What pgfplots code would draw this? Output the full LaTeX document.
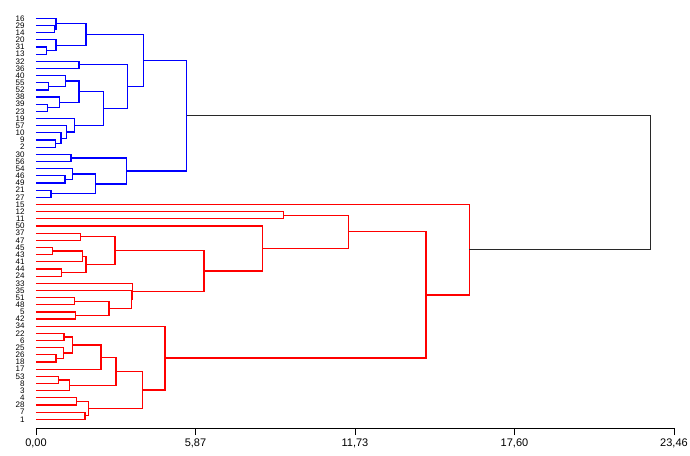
\documentclass[border=0pt]{standalone}
\usepackage{fontspec}
\setmainfont{Liberation Sans}
\usepackage{pgfplots}
\pgfplotsset{compat=1.18}
\begin{document}
\begin{tikzpicture}
\useasboundingbox (-36pt,-27pt) rectangle (654pt,428pt);
\begin{axis}[
  scale only axis, width=638pt, height=428pt,
  xmin=0, xmax=23.46, ymin=-57.21, ymax=2.556,
  axis x line=bottom, axis y line=left,
  axis line style={-, line width=0.8pt},
  y axis line style={draw=none},
  xtick={0,5.865,11.73,17.595,23.46},
  xticklabels={{0,00},{5,87},{11,73},{17,60},{23,46}},
  x tick label style={font=\fontsize{11}{13}\selectfont},
  tick align=outside, major tick length=7pt,
  x tick style={line width=0.8pt, black},
  ytick={0,-1,...,-56},
  yticklabels={16,29,14,20,31,13,32,36,40,55,52,38,39,23,19,57,10,9,2,30,56,54,46,49,21,27,15,12,11,50,37,47,45,43,41,44,24,33,35,51,48,5,42,34,22,6,25,26,18,17,53,8,3,4,28,7,1},
  y tick style={draw=none},
  y tick label style={font=\fontsize{8}{8}\selectfont, xshift=-1pt},
  unbounded coords=jump,
  clip=false,
]
% blue cluster
\addplot[blue, no marks, line width=1.2pt] coordinates {
(0,-1) (0.673,-1) (0.673,-2) (0,-2) (0,nan)
(0,0) (0.735,0) (0.735,-1.5) (0.673,-1.5) (0,nan)
(0,-4) (0.393,-4) (0.393,-5) (0,-5) (0,nan)
(0,-3) (0.735,-3) (0.735,-4.5) (0.393,-4.5) (0,nan)
(0.735,-0.75) (1.839,-0.75) (1.839,-3.75) (0.735,-3.75) (0,nan)
(0,-6) (1.581,-6) (1.581,-7) (0,-7) (0,nan)
(0,-9) (0.452,-9) (0.452,-10) (0,-10) (0,nan)
(0,-8) (1.092,-8) (1.092,-9.5) (0.452,-9.5) (0,nan)
(0,-12) (0.430,-12) (0.430,-13) (0,-13) (0,nan)
(0,-11) (0.857,-11) (0.857,-12.5) (0.430,-12.5) (0,nan)
(1.092,-8.75) (1.581,-8.75) (1.581,-11.75) (0.857,-11.75) (0,nan)
(0,-17) (0.710,-17) (0.710,-18) (0,-18) (0,nan)
(0,-16) (0.919,-16) (0.919,-17.5) (0.710,-17.5) (0,nan)
(0,-15) (1.129,-15) (1.129,-16.75) (0.919,-16.75) (0,nan)
(0,-14) (1.408,-14) (1.408,-15.875) (1.129,-15.875) (0,nan)
(1.581,-10.25) (2.475,-10.25) (2.475,-14.9375) (1.408,-14.9375) (0,nan)
(1.581,-6.5) (3.372,-6.5) (3.372,-12.59375) (2.475,-12.59375) (0,nan)
(1.839,-2.25) (3.946,-2.25) (3.946,-9.546875) (3.372,-9.546875) (0,nan)
(0,-19) (1.287,-19) (1.287,-20) (0,-20) (0,nan)
(0,-22) (1.066,-22) (1.066,-23) (0,-23) (0,nan)
(0,-21) (1.335,-21) (1.335,-22.5) (1.066,-22.5) (0,nan)
(0,-24) (0.552,-24) (0.552,-25) (0,-25) (0,nan)
(1.335,-21.75) (2.195,-21.75) (2.195,-24.5) (0.552,-24.5) (0,nan)
(1.287,-19.5) (3.335,-19.5) (3.335,-23.125) (2.195,-23.125) (0,nan)
(3.946,-5.8984) (5.542,-5.8984) (5.542,-21.3125) (3.335,-21.3125)
};
% red cluster
\addplot[red, no marks, line width=1.2pt] coordinates {
(0,-27) (9.094,-27) (9.094,-28) (0,-28) (0,nan)
(0,-30) (1.644,-30) (1.644,-31) (0,-31) (0,nan)
(0,-32) (0.599,-32) (0.599,-33) (0,-33) (0,nan)
(0.599,-32.5) (1.717,-32.5) (1.717,-34) (0,-34) (0,nan)
(0,-35) (0.945,-35) (0.945,-36) (0,-36) (0,nan)
(1.717,-33.25) (1.839,-33.25) (1.839,-35.5) (0.945,-35.5) (0,nan)
(1.644,-30.5) (2.905,-30.5) (2.905,-34.375) (1.839,-34.375) (0,nan)
(0,-39) (1.408,-39) (1.408,-40) (0,-40) (0,nan)
(0,-41) (1.460,-41) (1.460,-42) (0,-42) (0,nan)
(1.408,-39.5) (2.684,-39.5) (2.684,-41.5) (1.460,-41.5) (0,nan)
(0,-38) (3.504,-38) (3.504,-40.5) (2.684,-40.5) (0,nan)
(0,-37) (3.541,-37) (3.541,-39.25) (3.504,-39.25) (0,nan)
(2.905,-32.4375) (6.178,-32.4375) (6.178,-38.125) (3.541,-38.125) (0,nan)
(0,-29) (8.336,-29) (8.336,-35.28125) (6.178,-35.28125) (0,nan)
(9.094,-27.5) (11.484,-27.5) (11.484,-32.140625) (8.336,-32.140625) (0,nan)
(0,-44) (1.030,-44) (1.030,-45) (0,-45) (0,nan)
(0,-47) (0.735,-47) (0.735,-48) (0,-48) (0,nan)
(0,-46) (1.010,-46) (1.010,-47.5) (0.735,-47.5) (0,nan)
(1.030,-44.5) (1.335,-44.5) (1.335,-46.75) (1.010,-46.75) (0,nan)
(1.335,-45.625) (2.390,-45.625) (2.390,-49) (0,-49) (0,nan)
(0,-50) (0.835,-50) (0.835,-51) (0,-51) (0,nan)
(0.835,-50.5) (1.224,-50.5) (1.224,-52) (0,-52) (0,nan)
(2.390,-47.3125) (2.942,-47.3125) (2.942,-51.25) (1.224,-51.25) (0,nan)
(0,-53) (1.497,-53) (1.497,-54) (0,-54) (0,nan)
(0,-55) (1.802,-55) (1.802,-56) (0,-56) (0,nan)
(1.497,-53.5) (1.923,-53.5) (1.923,-55.5) (1.802,-55.5) (0,nan)
(2.942,-49.28125) (3.924,-49.28125) (3.924,-54.5) (1.923,-54.5) (0,nan)
(0,-43) (4.744,-43) (4.744,-51.890625) (3.924,-51.890625) (0,nan)
(11.484,-29.8203125) (14.341,-29.8203125) (14.341,-47.4453125) (4.744,-47.4453125) (0,nan)
(0,-26) (15.933,-26) (15.933,-38.6328125) (14.341,-38.6328125)
};
% root
\addplot[color={rgb,255:red,40;green,40;blue,40}, no marks, line width=1.2pt] coordinates {(5.542,-13.60547) (22.603,-13.60547) (22.603,-32.31641) (15.933,-32.31641)};
\end{axis}
\end{tikzpicture}
\end{document}
